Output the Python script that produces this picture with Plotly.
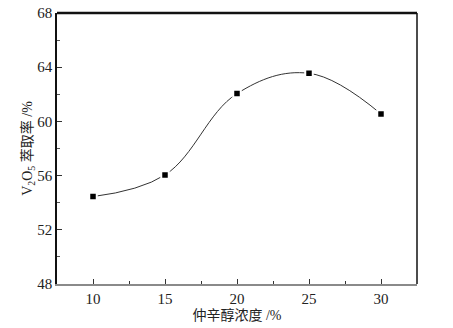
import plotly.graph_objects as go

conc = [10, 15, 20, 25, 30]
extraction = [54.45, 56.05, 62.05, 63.55, 60.55]
x_ticks = [10, 15, 20, 25, 30]
y_ticks = [48, 52, 56, 60, 64, 68]

SERIF = "Liberation Serif"
TITLE_FONT = "Liberation Serif, Noto Sans CJK SC"

fig = go.Figure()
fig.add_trace(go.Scatter(
    x=conc, y=extraction, mode="lines+markers",
    line=dict(shape="spline", smoothing=1.1, color="#333333", width=1),
    marker=dict(symbol="square", size=7.5, color="black",
                line=dict(color="white", width=2)),
    showlegend=False,
))

fig.update_layout(
    width=445, height=320,
    margin=dict(l=49, r=36, t=5, b=44),
    paper_bgcolor="white", plot_bgcolor="white",
    font=dict(family=SERIF, size=15, color="#222"),
    xaxis=dict(
        range=[7.5, 32.5], tickvals=x_ticks, ticktext=[str(v) for v in x_ticks],
        tickfont=dict(family=SERIF, size=15, color="#222"), automargin=False,
        ticklabeloverflow="allow",
        ticks="inside", ticklen=5, tickwidth=1, tickcolor="#333",
        minor=dict(tickvals=[12.5, 17.5, 22.5, 27.5], ticks="inside", ticklen=3, tickcolor="#333"),
        showline=True, linecolor="#8a8a8a", linewidth=2, showgrid=False, zeroline=False,
        title=dict(text="仲辛醇浓度 /%", font=dict(size=14, family=TITLE_FONT, color="#222"), standoff=1),
    ),
    yaxis=dict(
        range=[48, 68], tickvals=y_ticks, ticktext=[str(v) for v in y_ticks],
        tickfont=dict(family=SERIF, size=15, color="#222"), automargin=False,
        ticklabeloverflow="allow",
        ticks="inside", ticklen=5, tickwidth=1, tickcolor="#333",
        minor=dict(tickvals=[50, 54, 58, 62, 66], ticks="inside", ticklen=3, tickcolor="#555"),
        showline=True, linecolor="#111", linewidth=1.5, showgrid=False, zeroline=False,
        title=dict(text="V<sub>2</sub>O<sub>5</sub> 萃取率 /%", font=dict(size=14, family=TITLE_FONT, color="#222"), standoff=1),
    ),
    shapes=[
        dict(type="line", xref="paper", yref="paper", x0=0, x1=1, y0=1, y1=1,
             line=dict(color="#111", width=2.5)),
        dict(type="line", xref="paper", yref="paper", x0=1, x1=1, y0=0, y1=1,
             line=dict(color="#111", width=1.5)),
    ],
)

fig.write_html("out.html")
